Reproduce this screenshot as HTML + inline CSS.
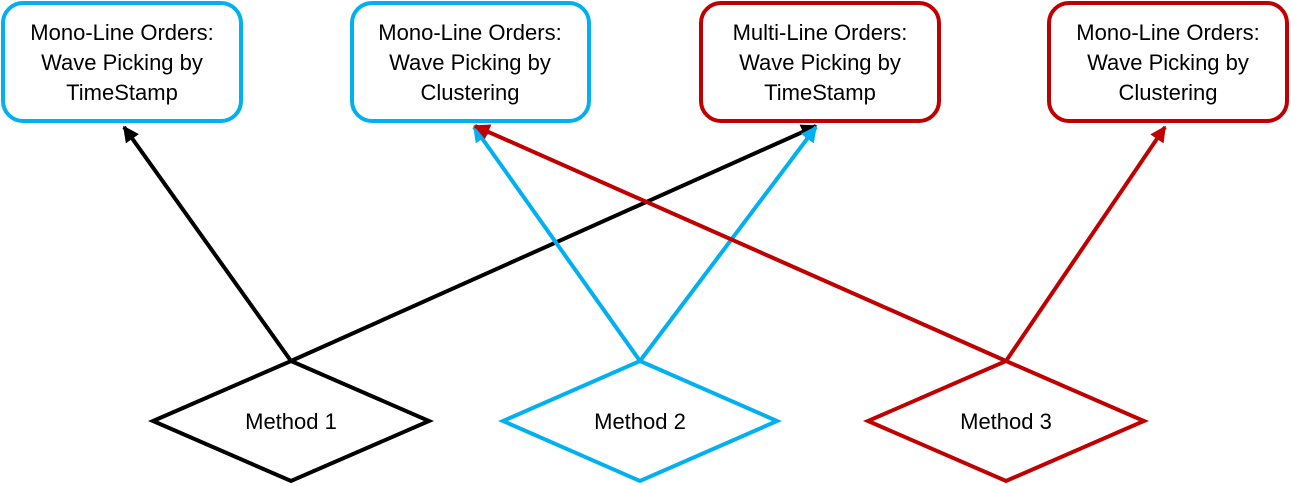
<!DOCTYPE html>
<html><head><style>body{margin:0;background:#fff}svg{display:block}text{font-family:"Liberation Sans",sans-serif;font-size:22px;fill:#000;text-anchor:middle}</style></head><body>
<svg width="1291" height="486" viewBox="0 0 1291 486">
<defs>
<marker id="ak" viewBox="0 0 10 10" refX="9" refY="5" markerWidth="4.5" markerHeight="4" orient="auto" markerUnits="strokeWidth"><path d="M0,0L10,5L0,10z" fill="#000"/></marker>
<marker id="ab" viewBox="0 0 10 10" refX="9" refY="5" markerWidth="4.5" markerHeight="4" orient="auto" markerUnits="strokeWidth"><path d="M0,0L10,5L0,10z" fill="#00B0F0"/></marker>
<marker id="ar" viewBox="0 0 10 10" refX="9" refY="5" markerWidth="4.5" markerHeight="4" orient="auto" markerUnits="strokeWidth"><path d="M0,0L10,5L0,10z" fill="#C00000"/></marker>
</defs>
<g fill="#fff" stroke-width="4">
<rect x="3" y="3" width="238" height="118" rx="20" stroke="#00B0F0"/>
<rect x="352" y="3" width="237" height="118" rx="20" stroke="#00B0F0"/>
<rect x="701" y="3" width="238" height="118" rx="20" stroke="#C00000"/>
<rect x="1049" y="3" width="238" height="118" rx="20" stroke="#C00000"/>
</g>
<g>
<text x="122" y="40">Mono-Line Orders:</text><text x="122" y="70">Wave Picking by</text><text x="122" y="100">TimeStamp</text>
<text x="470" y="40">Mono-Line Orders:</text><text x="470" y="70">Wave Picking by</text><text x="470" y="100">Clustering</text>
<text x="820" y="40">Multi-Line Orders:</text><text x="820" y="70">Wave Picking by</text><text x="820" y="100">TimeStamp</text>
<text x="1168" y="40">Mono-Line Orders:</text><text x="1168" y="70">Wave Picking by</text><text x="1168" y="100">Clustering</text>
</g>
<g stroke-width="4" fill="none">
<line x1="291" y1="361" x2="124" y2="127" stroke="#000" marker-end="url(#ak)"/>
<line x1="291" y1="361" x2="816" y2="126" stroke="#000" marker-end="url(#ak)"/>
<line x1="640" y1="361" x2="474" y2="127" stroke="#00B0F0" marker-end="url(#ab)"/>
<line x1="640" y1="361" x2="816" y2="127" stroke="#00B0F0" marker-end="url(#ab)"/>
<line x1="1006" y1="361" x2="475" y2="126" stroke="#C00000" marker-end="url(#ar)"/>
<line x1="1006" y1="361" x2="1165" y2="127" stroke="#C00000" marker-end="url(#ar)"/>
</g>
<g fill="#fff" stroke-width="4">
<polygon points="291,361 429,421 291,481 153,421" stroke="#000"/>
<polygon points="640,361 777,421 640,481 503,421" stroke="#00B0F0"/>
<polygon points="1006,361 1144,421 1006,481 868,421" stroke="#C00000"/>
</g>
<text x="291" y="429">Method 1</text>
<text x="640" y="429">Method 2</text>
<text x="1006" y="429">Method 3</text>
</svg>
</body></html>
